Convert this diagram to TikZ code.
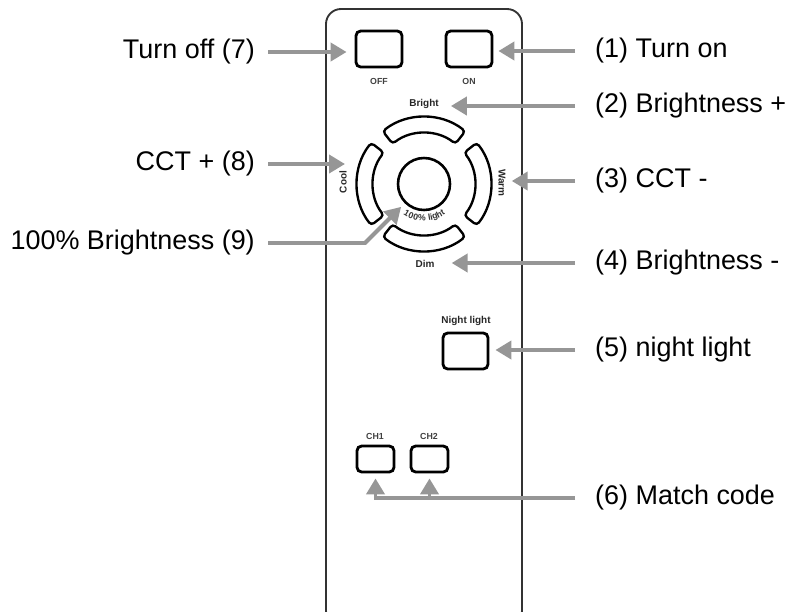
\documentclass[tikz,border=0pt]{standalone}
\usepackage{fontspec}
\setmainfont{Liberation Sans}
\usetikzlibrary{arrows.meta, calc}

\newdimen\pxu \pxu=0.03cm
\definecolor{arrowgray}{RGB}{150,150,150}

\begin{document}
\begin{tikzpicture}[x=0.03cm, y=0.03cm,
    key/.style={draw, line width=2.4pt, rounded corners=4pt, minimum width=46\pxu, minimum height=36\pxu, inner sep=0pt},
    chkey/.style={key, minimum width=37\pxu, minimum height=26\pxu},
    pad/.style={draw, line width=2pt, rounded corners=3pt},
    tag/.style={font=\fontsize{8.5}{10}\selectfont\bfseries, text=black!85, inner sep=0pt},
    tinytag/.style={font=\fontsize{7.5}{9}\selectfont\bfseries, text=black!75, inner sep=0pt},
    callout/.style={font=\fontsize{23}{27}\selectfont, inner sep=0pt},
    pointer/.style={-{Triangle[length=0.48cm, width=0.54cm]}, line width=3.4pt, draw=arrowgray}
]
\useasboundingbox (0,0) rectangle (790,-611);

% Remote
\draw[line width=1.6pt, draw=black!80, rounded corners=15\pxu] (326,-9) rectangle (522,-626);

% Keys
\node[key] (off) at (379,-49) {};
\node[key] (on) at (469,-49) {};
\node[key, minimum width=45\pxu] (night) at (465.5,-351) {};
\node[chkey] (ch1) at (375.5,-459) {};
\node[chkey] (ch2) at (429.5,-459) {};

\coordinate (hub) at (424,-184);
\node[draw, circle, line width=2.2pt, minimum size=52\pxu, inner sep=0pt] (full) at (hub) {};
\foreach \a in {0,90,180,270}
  \draw[pad] ($(hub)+(\a-38:67)$) arc[start angle=\a-38, end angle=\a+38, radius=67]
    -- ($(hub)+(\a+38:51)$) arc[start angle=\a+38, end angle=\a-38, radius=51] -- cycle;

% Key labels
\node[tinytag] (offtag) at (379,-81) {OFF};
\node[tinytag] (ontag) at (469,-81) {ON};
\node[tag] (bright) at (424,-104) {Bright};
\node[tag] (dim) at (425,-264) {Dim};
\node[tag, rotate=90] (cool) at (343,-182) {Cool};
\node[tag, rotate=-90] (warm) at (502,-183) {Warm};
\node[tag] (nighttag) at (466,-321) {Night light};
\node[tinytag] (ch1tag) at (375,-436) {CH1};
\node[tinytag] (ch2tag) at (429,-436) {CH2};
\foreach \ch/\ang [count=\i] in {1/239.3, 0/247.6, 0/255.9, \%/266.7, l/279.1, i/282.4, g/288.2, h/296.6, t/302.8}
  \node[anchor=base, inner sep=0pt, rotate=\ang-270, font=\fontsize{7.5}{8}\selectfont\bfseries, text=black!80] (fulltag\i) at ($(hub)+(\ang:37)$) {\ch};

% Callouts
\node[callout, anchor=east] (l7) at (255,-52) {Turn off (7)};
\node[callout, anchor=east] (l8) at (255,-164) {CCT + (8)};
\node[callout, anchor=east] (l9) at (255,-243) {100\% Brightness (9)};
\node[callout, anchor=west] (l1) at (595,-51) {(1) Turn on};
\node[callout, anchor=west] (l2) at (595,-106) {(2) Brightness +};
\node[callout, anchor=west] (l3) at (595,-181) {(3) CCT -};
\node[callout, anchor=west] (l4) at (595,-263) {(4) Brightness -};
\node[callout, anchor=west] (l5) at (595,-350) {(5) night light};
\node[callout, anchor=west] (l6) at (595,-498) {(6) Match code};

% Arrows
\coordinate (t8) at (345,-164);
\coordinate (k9) at (365,-243);
\draw[pointer, shorten <=13\pxu, shorten >=8\pxu] (l7.east) -- (l7.east -| off.west);
\draw[pointer, shorten <=13\pxu] (l8.east) -- (t8);
\draw[pointer, shorten <=13\pxu, shorten >=5\pxu] (l9.east) -- (k9) -- (full);

\draw[pointer, shorten <=20\pxu, shorten >=5\pxu] (l1.west) -- (l1.west -| on.east);
\draw[pointer, shorten <=20\pxu, shorten >=12\pxu] (l2.west) -- (l2.west -| bright.east);
\draw[pointer, shorten <=20\pxu, shorten >=6\pxu] (l3.west) -- (l3.west -| warm.north);
\draw[pointer, shorten <=20\pxu, shorten >=17\pxu] (l4.west) -- (l4.west -| dim.east);
\draw[pointer, shorten <=20\pxu, shorten >=6\pxu] (l5.west) -- (l5.west -| night.east);
\draw[pointer, shorten <=20\pxu, shorten >=5\pxu] (l6.west) -| (ch1.south);
\draw[pointer, shorten <=20\pxu, shorten >=5\pxu] (l6.west) -| (ch2.south);

\end{tikzpicture}
\end{document}
